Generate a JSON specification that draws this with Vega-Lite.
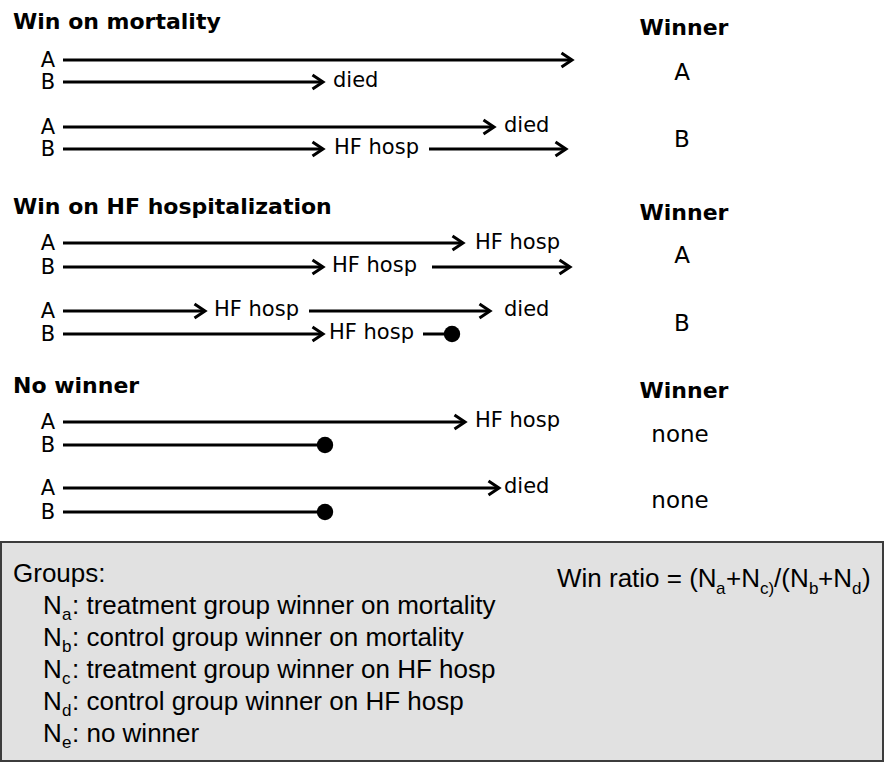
{
  "$schema": "https://vega.github.io/schema/vega-lite/v6.json",
  "width": 884,
  "height": 762,
  "padding": 0,
  "autosize": {"type": "fit", "contains": "padding"},
  "background": "white",
  "config": {"view": {"stroke": null}},
  "datasets": {
    "box": [{"x": 1, "x2": 883, "y": 542, "y2": 761}],
    "segments": [
      {"x": 63, "x2": 572, "y": 60},
      {"x": 63, "x2": 323, "y": 82},
      {"x": 63, "x2": 494, "y": 127},
      {"x": 63, "x2": 323, "y": 149},
      {"x": 429, "x2": 566, "y": 149},
      {"x": 63, "x2": 463, "y": 243},
      {"x": 63, "x2": 323, "y": 267},
      {"x": 432, "x2": 570, "y": 267},
      {"x": 63, "x2": 205, "y": 311},
      {"x": 309, "x2": 490, "y": 311},
      {"x": 63, "x2": 323, "y": 334},
      {"x": 423, "x2": 452, "y": 334},
      {"x": 63, "x2": 465, "y": 422},
      {"x": 63, "x2": 325, "y": 445},
      {"x": 63, "x2": 499, "y": 488},
      {"x": 63, "x2": 325, "y": 512}
    ],
    "heads": [
      {"x": 572, "y": 60},
      {"x": 323, "y": 82},
      {"x": 494, "y": 127},
      {"x": 323, "y": 149},
      {"x": 566, "y": 149},
      {"x": 463, "y": 243},
      {"x": 323, "y": 267},
      {"x": 570, "y": 267},
      {"x": 205, "y": 311},
      {"x": 490, "y": 311},
      {"x": 323, "y": 334},
      {"x": 465, "y": 422},
      {"x": 499, "y": 488}
    ],
    "dots": [
      {"x": 452, "y": 334},
      {"x": 325, "y": 445},
      {"x": 325, "y": 512}
    ],
    "texts": [
      {"role": "heading", "x": 13, "y": 29, "text": "Win on mortality"},
      {"role": "heading", "x": 13, "y": 214, "text": "Win on HF hospitalization"},
      {"role": "heading", "x": 13, "y": 393, "text": "No winner"},
      {"role": "winnerHead", "x": 684, "y": 35, "text": "Winner"},
      {"role": "winnerHead", "x": 684, "y": 220, "text": "Winner"},
      {"role": "winnerHead", "x": 684, "y": 398, "text": "Winner"},
      {"role": "winner", "x": 682, "y": 80, "text": "A"},
      {"role": "winner", "x": 682, "y": 147, "text": "B"},
      {"role": "winner", "x": 682, "y": 263, "text": "A"},
      {"role": "winner", "x": 682, "y": 331, "text": "B"},
      {"role": "winner", "x": 680, "y": 442, "text": "none"},
      {"role": "winner", "x": 680, "y": 508, "text": "none"},
      {"role": "row", "x": 48, "y": 67, "text": "A"},
      {"role": "row", "x": 48, "y": 89, "text": "B"},
      {"role": "row", "x": 48, "y": 134, "text": "A"},
      {"role": "row", "x": 48, "y": 156, "text": "B"},
      {"role": "row", "x": 48, "y": 250, "text": "A"},
      {"role": "row", "x": 48, "y": 274, "text": "B"},
      {"role": "row", "x": 48, "y": 318, "text": "A"},
      {"role": "row", "x": 48, "y": 341, "text": "B"},
      {"role": "row", "x": 48, "y": 429, "text": "A"},
      {"role": "row", "x": 48, "y": 452, "text": "B"},
      {"role": "row", "x": 48, "y": 495, "text": "A"},
      {"role": "row", "x": 48, "y": 519, "text": "B"},
      {"role": "event", "x": 333, "y": 87, "text": "died"},
      {"role": "event", "x": 504, "y": 132, "text": "died"},
      {"role": "event", "x": 334, "y": 154, "text": "HF hosp"},
      {"role": "event", "x": 475, "y": 249, "text": "HF hosp"},
      {"role": "event", "x": 332, "y": 272, "text": "HF hosp"},
      {"role": "event", "x": 214, "y": 316, "text": "HF hosp"},
      {"role": "event", "x": 504, "y": 316, "text": "died"},
      {"role": "event", "x": 329, "y": 339, "text": "HF hosp"},
      {"role": "event", "x": 475, "y": 427, "text": "HF hosp"},
      {"role": "event", "x": 504, "y": 493, "text": "died"},
      {"role": "box", "x": 13, "y": 582, "text": "Groups:"},
      {"role": "box", "x": 43, "y": 614, "text": "N"},
      {"role": "boxSub", "x": 62, "y": 620, "text": "a"},
      {"role": "box", "x": 72, "y": 614, "text": ": treatment group winner on mortality"},
      {"role": "box", "x": 43, "y": 646, "text": "N"},
      {"role": "boxSub", "x": 62, "y": 652, "text": "b"},
      {"role": "box", "x": 72, "y": 646, "text": ": control group winner on mortality"},
      {"role": "box", "x": 43, "y": 678, "text": "N"},
      {"role": "boxSub", "x": 62, "y": 684, "text": "c"},
      {"role": "box", "x": 72, "y": 678, "text": ": treatment group winner on HF hosp"},
      {"role": "box", "x": 43, "y": 710, "text": "N"},
      {"role": "boxSub", "x": 62, "y": 716, "text": "d"},
      {"role": "box", "x": 72, "y": 710, "text": ": control group winner on HF hosp"},
      {"role": "box", "x": 43, "y": 742, "text": "N"},
      {"role": "boxSub", "x": 62, "y": 748, "text": "e"},
      {"role": "box", "x": 72, "y": 742, "text": ": no winner"},
      {"role": "box", "x": 557, "y": 587, "text": "Win ratio = (N"},
      {"role": "boxSub", "x": 716, "y": 594, "text": "a"},
      {"role": "box", "x": 726, "y": 587, "text": "+N"},
      {"role": "boxSub", "x": 760, "y": 594, "text": "c)"},
      {"role": "box", "x": 774, "y": 587, "text": "/(N"},
      {"role": "boxSub", "x": 809, "y": 594, "text": "b"},
      {"role": "box", "x": 818, "y": 587, "text": "+N"},
      {"role": "boxSub", "x": 852, "y": 594, "text": "d"},
      {"role": "box", "x": 862, "y": 587, "text": ")"}
    ]
  },
  "encoding": {
    "x": {"field": "x", "type": "quantitative", "axis": null, "scale": {"domain": [0, 884], "nice": false, "zero": false}},
    "y": {"field": "y", "type": "quantitative", "axis": null, "scale": {"domain": [0, 762], "nice": false, "zero": false, "reverse": true}}
  },
  "layer": [
    {
      "data": {"name": "box"},
      "mark": {"type": "rect", "fill": "#e1e1e1", "stroke": "#3c3c3c", "strokeWidth": 2},
      "encoding": {"x2": {"field": "x2"}, "y2": {"field": "y2"}}
    },
    {
      "data": {"name": "segments"},
      "mark": {"type": "rule", "color": "#000000", "strokeWidth": 3},
      "encoding": {"x2": {"field": "x2"}}
    },
    {
      "data": {"name": "heads"},
      "mark": {"type": "point", "shape": "M-1.5,-1L0,0L-1.5,1", "size": 196, "filled": false, "stroke": "#000000", "strokeWidth": 3, "opacity": 1, "strokeJoin": "miter", "strokeCap": "butt"},
      "encoding": {}
    },
    {
      "data": {"name": "dots"},
      "mark": {"type": "point", "shape": "circle", "size": 270, "filled": true, "fill": "#000000", "opacity": 1, "strokeWidth": 0},
      "encoding": {}
    },
    {
      "data": {"name": "texts"},
      "transform": [{"filter": "datum.role === 'heading'"}],
      "mark": {"type": "text", "font": "DejaVu Sans", "fontWeight": "bold", "fontSize": 22, "align": "left", "baseline": "alphabetic", "color": "#000000"},
      "encoding": {"text": {"field": "text"}}
    },
    {
      "data": {"name": "texts"},
      "transform": [{"filter": "datum.role === 'winnerHead'"}],
      "mark": {"type": "text", "font": "DejaVu Sans", "fontWeight": "bold", "fontSize": 22, "align": "center", "baseline": "alphabetic", "color": "#000000"},
      "encoding": {"text": {"field": "text"}}
    },
    {
      "data": {"name": "texts"},
      "transform": [{"filter": "datum.role === 'winner'"}],
      "mark": {"type": "text", "font": "DejaVu Sans", "fontSize": 23, "align": "center", "baseline": "alphabetic", "color": "#000000"},
      "encoding": {"text": {"field": "text"}}
    },
    {
      "data": {"name": "texts"},
      "transform": [{"filter": "datum.role === 'row'"}],
      "mark": {"type": "text", "font": "DejaVu Sans", "fontSize": 21, "align": "center", "baseline": "alphabetic", "color": "#000000"},
      "encoding": {"text": {"field": "text"}}
    },
    {
      "data": {"name": "texts"},
      "transform": [{"filter": "datum.role === 'event'"}],
      "mark": {"type": "text", "font": "DejaVu Sans", "fontSize": 21, "align": "left", "baseline": "alphabetic", "color": "#000000"},
      "encoding": {"text": {"field": "text"}}
    },
    {
      "data": {"name": "texts"},
      "transform": [{"filter": "datum.role === 'box'"}],
      "mark": {"type": "text", "font": "Liberation Sans", "fontSize": 26, "align": "left", "baseline": "alphabetic", "color": "#000000"},
      "encoding": {"text": {"field": "text"}}
    },
    {
      "data": {"name": "texts"},
      "transform": [{"filter": "datum.role === 'boxSub'"}],
      "mark": {"type": "text", "font": "Liberation Sans", "fontSize": 17, "align": "left", "baseline": "alphabetic", "color": "#000000"},
      "encoding": {"text": {"field": "text"}}
    }
  ]
}
